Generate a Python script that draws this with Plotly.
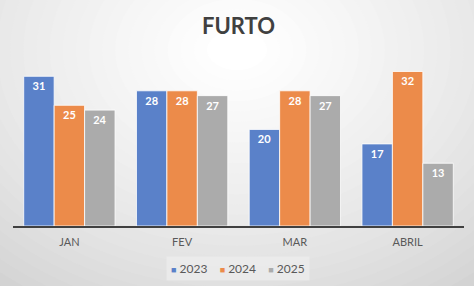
import plotly.graph_objects as go

categories = ["JAN", "FEV", "MAR", "ABRIL"]
series_names = ["2023", "2024", "2025"]
values_2023 = [31, 28, 20, 17]
values_2024 = [25, 28, 28, 32]
values_2025 = [24, 27, 27, 13]
colors = ["#5A81C9", "#EC8B4A", "#ABABAB"]

W, H = 474, 286
ml, mr, mt, mb = 13, 10, 57, 60
pw, ph = W - ml - mr, H - mt - mb

fig = go.Figure()
for name, vals, col in zip(series_names, [values_2023, values_2024, values_2025], colors):
    fig.add_trace(go.Bar(
        x=categories, y=vals, name=name,
        marker=dict(color=col, line=dict(color="rgba(255,255,255,0.8)", width=1)),
        text=[str(v) for v in vals], textposition="inside", insidetextanchor="end",
        textangle=0, textfont=dict(family="Lato", size=11, color="white", weight="bold"),
        cliponaxis=False,
    ))

# radial background gradient (light centre near top, grey edges)
shapes = []
cx, cy = 237, 50
N = 30
c_out, c_in = 0xCC, 0xFF
for i in range(N):
    f = i / (N - 1)
    rx = 380 * (1 - f) + 30
    ry = 300 * (1 - f) + 20
    c = int(c_out + (c_in - c_out) * f ** 0.7)
    x0p = (cx - rx - ml) / pw
    x1p = (cx + rx - ml) / pw
    y0p = (H - mb - (cy + ry)) / ph
    y1p = (H - mb - (cy - ry)) / ph
    shapes.append(dict(type="circle", xref="paper", yref="paper",
                       x0=x0p, x1=x1p, y0=y0p, y1=y1p,
                       fillcolor=f"rgb({c},{c},{c})", line=dict(width=0), layer="below"))

# compact legend built from the series names and colours
sp = "\u00a0"
legend_text = (sp * 4).join(
    f"<span style='color:{c};font-size:9px'>■</span>{sp}{n}"
    for n, c in zip(series_names, colors)
)
annotations = [dict(
    text=legend_text, xref="paper", yref="paper", x=(238 - ml) / pw, y=(H - mb - 268) / ph,
    xanchor="center", yanchor="middle", showarrow=False,
    font=dict(family="Lato", size=12, color="#595959"),
    bgcolor="rgba(240,240,240,0.6)", borderpad=4,
)]

fig.update_layout(
    width=W, height=H,
    margin=dict(l=ml, r=mr, t=mt, b=mb),
    paper_bgcolor="#CFCFCF",
    plot_bgcolor="rgba(0,0,0,0)",
    shapes=shapes,
    annotations=annotations,
    barmode="group", bargap=0.19, bargroupgap=0.0,
    title=dict(text="<b>FURTO</b>", x=0.5, xanchor="center", xref="paper",
               y=1 - 26 / H, yanchor="middle",
               font=dict(family="Lato", size=22, color="#404040")),
    font=dict(family="Lato", color="#595959"),
    xaxis=dict(showline=True, linecolor="#404040", linewidth=2, ticks="",
               ticklabelstandoff=5,
               tickfont=dict(size=11, color="#595959"), showgrid=False, zeroline=False),
    yaxis=dict(range=[0, 35], visible=False, showgrid=False, zeroline=False),
    showlegend=False,
)

fig.write_html("out.html")
